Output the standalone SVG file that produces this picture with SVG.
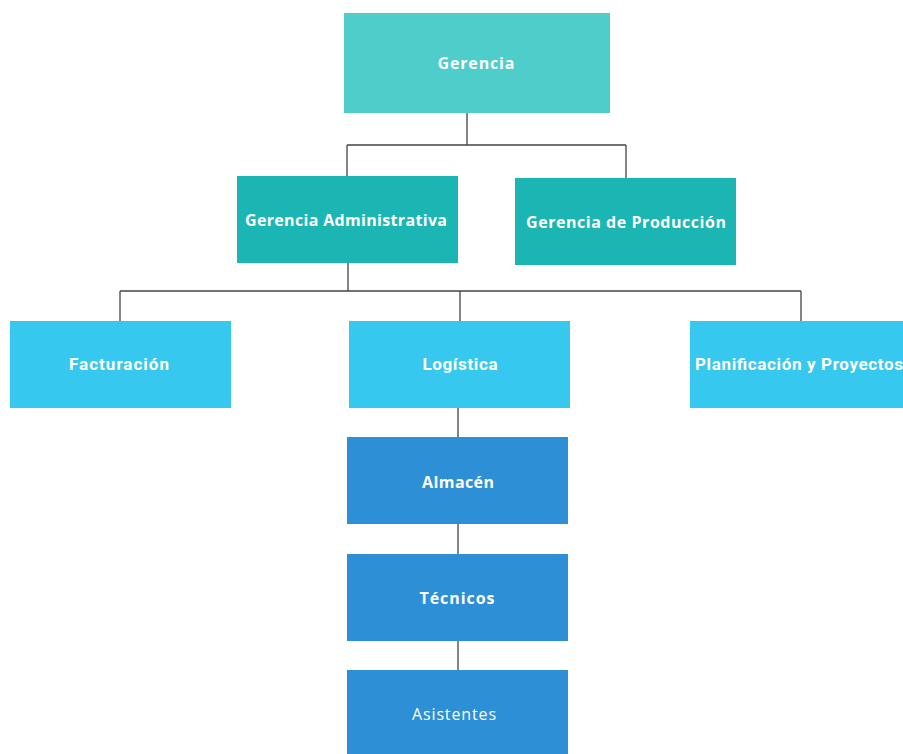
<svg xmlns="http://www.w3.org/2000/svg" width="903" height="754" viewBox="0 0 903 754">
<style>
.t{font-family:"Open Sans","Liberation Sans",sans-serif;font-weight:700;font-size:16px;fill:#fff;text-anchor:middle;dominant-baseline:central}
.c{font-family:Roboto,"Liberation Sans",sans-serif;font-weight:700;font-size:17px;fill:#fff;text-anchor:middle;dominant-baseline:central}
.r{font-family:"Open Sans","Liberation Sans",sans-serif;font-weight:400;font-size:16px;fill:#fff;text-anchor:middle;dominant-baseline:central}
.l{stroke:#444;stroke-width:1.3;fill:none}
</style>
<rect width="903" height="754" fill="#fff"/>
<g id="connectors">
<path class="l" d="M467 113V145M347 145H626M347 145V176M626 145V178"/>
<path class="l" d="M348 263V291M120 291H801M120 291V321M460 291V321M801 291V321"/>
<path class="l" d="M458 408V437M458 524V554M458 641V670"/>
</g>
<g id="gerencia"><rect x="344" y="13" width="266" height="100" fill="#4ECDCA"/><text class="t" x="476" y="63" textLength="77">Gerencia</text></g>
<g id="gerencia-administrativa"><rect x="237" y="176" width="221" height="87" fill="#1BB5B4"/><text class="t" x="346" y="220" textLength="202">Gerencia Administrativa</text></g>
<g id="gerencia-produccion"><rect x="515" y="178" width="221" height="87" fill="#1BB5B4"/><text class="t" x="626" y="222" textLength="200">Gerencia de Producción</text></g>
<g id="facturacion"><rect x="10" y="321" width="221" height="87" fill="#37C8EF"/><text class="c" x="119" y="364" textLength="100">Facturación</text></g>
<g id="logistica"><rect x="349" y="321" width="221" height="87" fill="#37C8EF"/><text class="c" x="460" y="364" textLength="75">Logística</text></g>
<g id="planificacion"><rect x="690" y="321" width="213" height="87" fill="#37C8EF"/><text class="c" x="799" y="364" textLength="208">Planificación y Proyectos</text></g>
<g id="almacen"><rect x="347" y="437" width="221" height="87" fill="#2D8FD6"/><text class="t" x="458" y="482" textLength="72">Almacén</text></g>
<g id="tecnicos"><rect x="347" y="554" width="221" height="87" fill="#2D8FD6"/><text class="t" x="457" y="598" textLength="75">Técnicos</text></g>
<g id="asistentes"><rect x="347" y="670" width="221" height="84" fill="#2D8FD6"/><text class="r" x="454" y="714" textLength="84">Asistentes</text></g>
</svg>
